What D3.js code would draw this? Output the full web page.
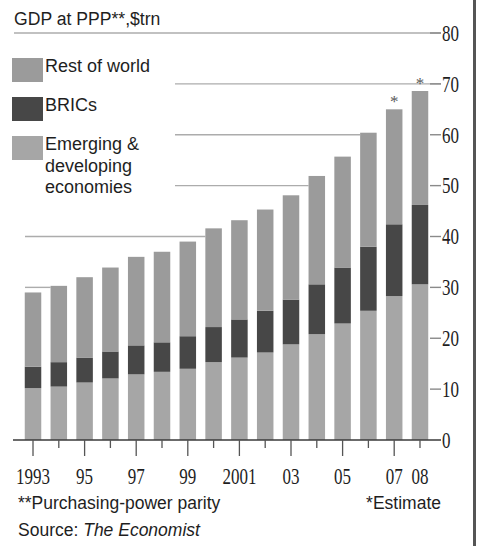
<!DOCTYPE html>
<html>
<head>
<meta charset="utf-8">
<script src="https://cdn.jsdelivr.net/npm/d3@7"></script>
<style>
  body { margin: 0; background: #fff; }
  svg { display: block; }
  .sans { font-family: "Liberation Sans", Arial, sans-serif; fill: #1e1e1e; }
  .serif { font-family: "Liberation Serif", "Times New Roman", serif; fill: #1e1e1e; }
</style>
</head>
<body>
<div id="chart"></div>
<script>
// GDP at PPP, $trn
const years = [1993, 1994, 1995, 1996, 1997, 1998, 1999, 2000,
               2001, 2002, 2003, 2004, 2005, 2006, 2007, 2008];
const emerging = [10.2, 10.5, 11.3, 12.1, 12.9, 13.4, 14.0, 15.3,
                  16.2, 17.2, 18.8, 20.8, 22.9, 25.4, 28.3, 30.6];
const brics = [4.2, 4.8, 4.9, 5.3, 5.7, 5.8, 6.4, 6.9,
               7.5, 8.2, 8.8, 9.8, 11.0, 12.6, 14.1, 15.6];
const restOfWorld = [14.6, 15.0, 15.8, 16.5, 17.4, 17.8, 18.6, 19.4,
                     19.5, 19.9, 20.5, 21.3, 21.8, 22.4, 22.6, 22.4];
const estimateYears = [2007, 2008];
const yTicks = [0, 10, 20, 30, 40, 50, 60, 70, 80];
const xLabels = {1993: '1993', 1995: '95', 1997: '97', 1999: '99', 2001: '2001',
                 2003: '03', 2005: '05', 2007: '07', 2008: '08'};
const seriesKeys = ['emerging', 'brics', 'rest'];
const legendItems = [
  {key: 'rest', lines: ['Rest of world']},
  {key: 'brics', lines: ['BRICs']},
  {key: 'emerging', lines: ['Emerging &', 'developing', 'economies']}
];

const colors = {rest: '#9b9b9b', brics: '#474747', emerging: '#a6a6a6'};

const width = 477, height = 546;
const table = years.map((yr, i) => ({
  year: yr, emerging: emerging[i], brics: brics[i], rest: restOfWorld[i]
}));

const svg = d3.select('#chart').append('svg')
  .attr('width', width)
  .attr('height', height);

const x = d3.scaleBand()
  .domain(years)
  .range([24.75, 428.25])
  .paddingInner(0.36)
  .paddingOuter(0);

const y = d3.scaleLinear().domain([0, 80]).range([440, 33]);

const stack = d3.stack().keys(seriesKeys)(table);
const totals = table.map(d => d.emerging + d.brics + d.rest);

// gridlines: run until the first bar that rises above them
function gridStart(v) {
  if (v >= 75) return 14;
  if (v >= 45) return 175;
  return 25;
}
const tickX0 = 430, tickX1 = 441;
const grid = svg.append('g');
yTicks.filter(v => v > 0).forEach(v => {
  const idx = totals.findIndex(t => t > v);
  const end = idx < 0 ? tickX1 : x(years[idx]);
  const x0 = gridStart(v);
  if (end > x0) {
    grid.append('line')
      .attr('x1', x0).attr('x2', end)
      .attr('y1', y(v)).attr('y2', y(v))
      .attr('stroke', '#acacac').attr('stroke-width', 1.4);
  }
  grid.append('line')
    .attr('x1', tickX0).attr('x2', tickX1)
    .attr('y1', y(v)).attr('y2', y(v))
    .attr('stroke', '#8a8a8a').attr('stroke-width', 1.4);
});

// bars
svg.append('g').selectAll('g')
  .data(stack)
  .join('g')
  .attr('fill', s => colors[s.key])
  .selectAll('rect')
  .data(s => s)
  .join('rect')
  .attr('x', d => x(d.data.year))
  .attr('width', x.bandwidth())
  .attr('y', d => y(d[1]))
  .attr('height', d => y(d[0]) - y(d[1]));

// estimate stars
svg.append('g').selectAll('text')
  .data(estimateYears)
  .join('text')
  .attr('class', 'serif')
  .attr('x', d => x(d) + x.bandwidth() / 2)
  .attr('y', d => y(totals[years.indexOf(d)]) - 2)
  .attr('text-anchor', 'middle')
  .attr('font-size', 17)
  .style('fill', '#5a5a5a')
  .text('*');

// baseline
svg.append('line')
  .attr('x1', 13).attr('x2', tickX1)
  .attr('y1', y(0)).attr('y2', y(0))
  .attr('stroke', '#3a3a3a').attr('stroke-width', 1.6);

// x ticks
svg.append('g').selectAll('line')
  .data(years)
  .join('line')
  .attr('x1', d => x(d) + x.bandwidth() / 2)
  .attr('x2', d => x(d) + x.bandwidth() / 2)
  .attr('y1', y(0))
  .attr('y2', d => y(0) + (d % 2 === 1 && d !== 2008 ? 16 : 8))
  .attr('stroke', '#555')
  .attr('stroke-width', 1.3);

// x labels (condensed serif)
svg.append('g').selectAll('g')
  .data(years.filter(d => xLabels[d]))
  .join('g')
  .attr('transform', d => `translate(${x(d) + x.bandwidth() / 2},484)`)
  .append('text')
  .attr('class', 'serif')
  .attr('transform', 'scale(0.74,1)')
  .attr('text-anchor', 'middle')
  .attr('font-size', 23)
  .text(d => xLabels[d]);

// y labels on the right
svg.append('g').selectAll('g')
  .data(yTicks)
  .join('g')
  .attr('transform', v => `translate(442,${y(v) + 7.8})`)
  .append('text')
  .attr('class', 'serif')
  .attr('transform', 'scale(0.74,1)')
  .attr('font-size', 23)
  .text(v => v);

// title
svg.append('text')
  .attr('class', 'sans')
  .attr('x', 14).attr('y', 25)
  .attr('font-size', 17.6)
  .text('GDP at PPP**,$trn');

// legend
const legendTop = [58, 97, 136];
const leg = svg.append('g').selectAll('g')
  .data(legendItems)
  .join('g')
  .attr('transform', (d, i) => `translate(12,${legendTop[i]})`);
leg.append('rect')
  .attr('width', 31).attr('height', 24)
  .attr('fill', d => colors[d.key]);
leg.append('text')
  .attr('class', 'sans')
  .attr('font-size', 18)
  .selectAll('tspan')
  .data(d => d.lines)
  .join('tspan')
  .attr('x', 33)
  .attr('y', (d, i) => 14 + i * 21.5)
  .text(d => d);

// notes
svg.append('text')
  .attr('class', 'sans')
  .attr('x', 18).attr('y', 509)
  .attr('font-size', 17.5)
  .text('**Purchasing-power parity');
svg.append('text')
  .attr('class', 'sans')
  .attr('x', 441).attr('y', 509)
  .attr('text-anchor', 'end')
  .attr('font-size', 17.5)
  .text('*Estimate');
const src = svg.append('text')
  .attr('class', 'sans')
  .attr('x', 18).attr('y', 536)
  .attr('font-size', 17.5);
src.append('tspan').text('Source: ');
src.append('tspan').attr('font-style', 'italic').text('The Economist');

// right frame edge
svg.append('rect')
  .attr('x', 473).attr('y', 0)
  .attr('width', 3).attr('height', height)
  .attr('fill', '#555');
</script>
</body>
</html>
